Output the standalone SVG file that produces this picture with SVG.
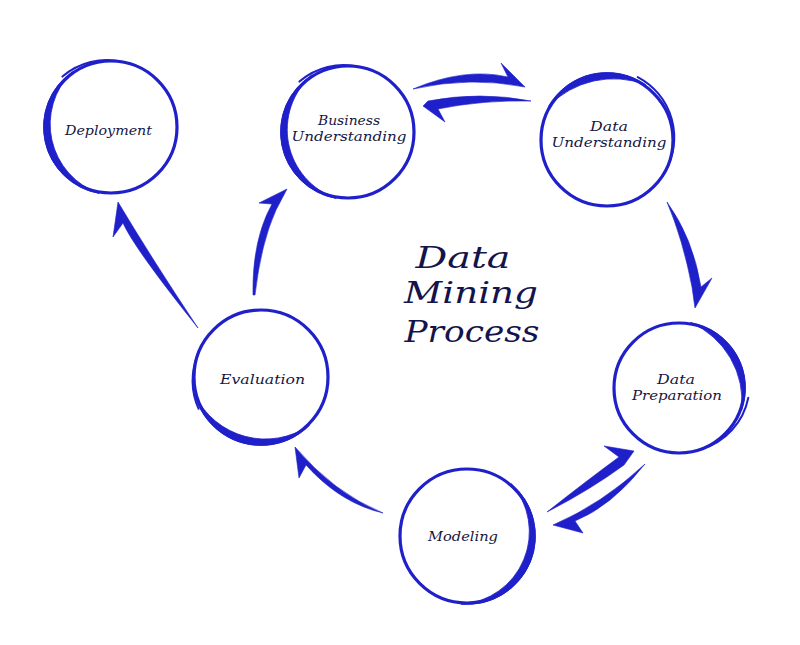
<svg xmlns="http://www.w3.org/2000/svg" width="800" height="645" viewBox="0 0 800 645">
<style>
.ring{fill:none;stroke:#1f20c9;stroke-width:3.2}
.thick{fill:#1f20c9;stroke:#1f20c9;stroke-width:0.8;stroke-linejoin:round}
.tail{fill:none;stroke:#1f20c9;stroke-width:2;stroke-linecap:round}
.lbl{font-family:"DejaVu Serif","Liberation Serif",serif;font-style:italic;font-size:13.5px;fill:#16163f;text-anchor:middle}
.title{font-family:"DejaVu Serif","Liberation Serif",serif;font-style:italic;font-size:30px;fill:#14144a;text-anchor:middle}
.arrow{fill:#1f20c9;stroke:#1f20c9;stroke-width:0.6;stroke-linejoin:round}
</style>
<rect width="800" height="645" fill="#ffffff"/>

<g id="node-deployment" transform="translate(111,127)">
<circle class="ring" r="66"/>
<path class="thick" d="M-38.7,-55.3 A67.5,67.5 0 0 0 -11.7,66.5 A73.4,73.4 0 0 1 -38.7,-55.3 Z"/>
<path class="tail" d="M11.5,-65 A68,68 0 0 0 -48.6,-50.4"/>
<text class="lbl" x="-2.5" y="8" textLength="87" lengthAdjust="spacingAndGlyphs">Deployment</text>
</g>

<g id="node-business" transform="translate(348,132)">
<circle class="ring" r="66"/>
<path class="thick" d="M-35.8,-57.2 A67.5,67.5 0 0 0 -11.7,66.5 A72.8,72.8 0 0 1 -35.8,-57.2 Z"/>
<path class="tail" d="M11.5,-65 A68,68 0 0 0 -48.6,-50.4"/>
<text class="lbl" x="1" y="-7" textLength="62" lengthAdjust="spacingAndGlyphs">Business</text>
<text class="lbl" x="1" y="9" textLength="115" lengthAdjust="spacingAndGlyphs">Understanding</text>
</g>

<g id="node-data-understanding" transform="translate(607,140)">
<circle class="ring" r="66"/>
<path class="thick" d="M-58.5,-33.75 A67.5,67.5 0 0 1 38.7,-55.3 A90.6,90.6 0 0 0 -58.5,-33.75 Z"/>
<path class="tail" d="M30.7,-62.9 A68,68 0 0 1 57.2,33"/>
<text class="lbl" x="2" y="-9" textLength="38" lengthAdjust="spacingAndGlyphs">Data</text>
<text class="lbl" x="2" y="7" textLength="115" lengthAdjust="spacingAndGlyphs">Understanding</text>
</g>

<g id="node-data-preparation" transform="translate(679,388)">
<circle class="ring" r="65"/>
<path class="thick" d="M11.5,-65.5 A66.5,66.5 0 0 1 62.5,22.7 A85.8,85.8 0 0 0 11.5,-65.5 Z"/>
<path class="tail" d="M69.3,9.7 A67,67 0 0 1 22.2,61.1"/>
<text class="lbl" x="-3" y="-4" textLength="38" lengthAdjust="spacingAndGlyphs">Data</text>
<text class="lbl" x="-2" y="12" textLength="90" lengthAdjust="spacingAndGlyphs">Preparation</text>
</g>

<g id="node-evaluation" transform="translate(261,377)">
<circle class="ring" r="67"/>
<path class="thick" d="M-66.2,17.7 A68.5,68.5 0 0 0 48.4,48.4 A78.2,78.2 0 0 1 -66.2,17.7 Z"/>
<path class="tail" d="M-63,-22.9 A68,68 0 0 0 -62.4,31.8"/>
<text class="lbl" x="1.5" y="7" textLength="85" lengthAdjust="spacingAndGlyphs">Evaluation</text>
</g>

<g id="node-modeling" transform="translate(467,536)">
<circle class="ring" r="67"/>
<path class="thick" d="M-6,68.2 A68.5,68.5 0 0 0 44,-52.5 A72.6,72.6 0 0 1 -6,68.2 Z"/>
<text class="lbl" x="-4" y="5" textLength="70" lengthAdjust="spacingAndGlyphs">Modeling</text>
</g>

<g id="title">
<text class="title" x="463" y="268" textLength="95" lengthAdjust="spacingAndGlyphs">Data</text>
<text class="title" x="471" y="303" textLength="134" lengthAdjust="spacingAndGlyphs">Mining</text>
<text class="title" x="472" y="342" textLength="135" lengthAdjust="spacingAndGlyphs">Process</text>
</g>

<g id="connectors">
<path class="arrow" d="M413,89 Q465,67 508,77 L501,63 L525,87 Q470,76 413,89 Z"/>
<path class="arrow" d="M531,101 Q480,91 428,101 L423,106 L445,122 L438,109 Q482,100 531,101 Z"/>
<path class="arrow" d="M667,202 Q693,238 701,287 L712,278 L695,308 L692,287 Q683,240 667,202 Z"/>
<path class="arrow" d="M547,512 Q585,482 619,457 L604,446 L634,451 L624,465 Q590,490 547,512 Z"/>
<path class="arrow" d="M645,464 Q602,504 553,525 L583,533 L575,521 Q612,506 645,464 Z"/>
<path class="arrow" d="M383,513 Q334,493 295,447 L299,478 L306,465 Q340,503 383,513 Z"/>
<path class="arrow" d="M253,295 Q252,240 272,204 L259,203 L287,189 L276,210 Q261,243 255,295 Z"/>
<path class="arrow" d="M198,328 Q152,259 118,202 L113,237 L123,223 Q134,248 198,328 Z"/>
</g>
</svg>
